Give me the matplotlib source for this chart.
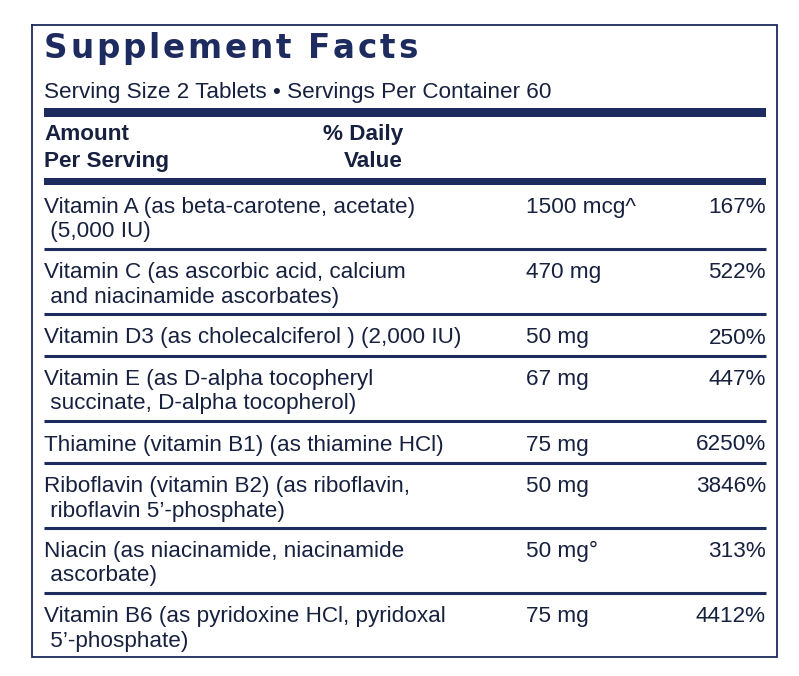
import matplotlib
matplotlib.use("Agg")
import matplotlib.pyplot as plt
from matplotlib import font_manager

# ---- data ----
title = "Supplement Facts"
serving_line = "Serving Size 2 Tablets \u2022 Servings Per Container 60"
header_left = ["Amount", "Per Serving"]
header_mid = ["% Daily", "Value"]
nutrients = [
    ["Vitamin A (as beta-carotene, acetate)", " (5,000 IU)"],
    ["Vitamin C (as ascorbic acid, calcium", " and niacinamide ascorbates)"],
    ["Vitamin D3 (as cholecalciferol ) (2,000 IU)"],
    ["Vitamin E (as D-alpha tocopheryl", " succinate, D-alpha tocopherol)"],
    ["Thiamine (vitamin B1) (as thiamine HCl)"],
    ["Riboflavin (vitamin B2) (as riboflavin,", " riboflavin 5\u2019-phosphate)"],
    ["Niacin (as niacinamide, niacinamide", " ascorbate)"],
    ["Vitamin B6 (as pyridoxine HCl, pyridoxal", " 5\u2019-phosphate)"],
]
amounts = ["1500 mcg^", "470 mg", "50 mg", "67 mg", "75 mg", "50 mg", "50 mg\u00b0", "75 mg"]
daily_values = ["167%", "522%", "250%", "447%", "6250%", "3846%", "313%", "4412%"]

# ---- style ----
NAVY = "#1d2b5f"
TEXT = "#17213f"
avail = {f.name for f in font_manager.fontManager.ttflist}
body_family = ["Liberation Sans Narrow", "Liberation Sans", "DejaVu Sans"]
body_family = [f for f in body_family if f in avail] or ["DejaVu Sans"]
FS = 16.2

W, H = 799, 676
fig = plt.figure(figsize=(W / 100, H / 100), dpi=100)
ax = fig.add_axes([0, 0, 1, 1])
ax.set_xlim(0, W)
ax.set_ylim(H, 0)
ax.axis("off")

# border
ax.plot([32, 777, 777, 32, 32], [25, 25, 657, 657, 25], color=NAVY, lw=1.3,
        solid_joinstyle="miter")

XL, XR = 44, 766

# title with letter spacing
fig.canvas.draw()
renderer = fig.canvas.get_renderer()
x = XL
for ch in title:
    t = ax.text(x, 58, ch, fontsize=23.5, fontweight="heavy", family="DejaVu Sans",
                color=NAVY, va="baseline", ha="left")
    bb = t.get_window_extent(renderer=renderer)
    w = 11 if ch == " " else bb.width
    x += w + 2.8

ax.text(XL, 98, serving_line, fontsize=FS, family=body_family, color=TEXT,
        va="baseline", ha="left")

# thick bars + header
ax.fill_between([XL, XR], 108, 117, color=NAVY, lw=0)
ax.text(XL, 140, header_left[0], fontsize=FS, family=body_family, weight="bold",
        color=TEXT, va="baseline")
ax.text(XL, 167, header_left[1], fontsize=FS, family=body_family, weight="bold",
        color=TEXT, va="baseline")
ax.text(403, 140, header_mid[0], fontsize=FS, family=body_family, weight="bold",
        color=TEXT, va="baseline", ha="right")
ax.text(403, 167, header_mid[1], fontsize=FS, family=body_family, weight="bold",
        color=TEXT, va="baseline", ha="right")
ax.fill_between([XL, XR], 178, 185, color=NAVY, lw=0)

# rows
H2, H1 = 65, 42
top = 184
for i, (lines, amt, dv) in enumerate(zip(nutrients, amounts, daily_values)):
    h = H2 if len(lines) > 1 else H1
    c = top + h / 2
    if len(lines) > 1:
        bases = [c - 3.5, c + 21]
    else:
        bases = [c + 8.5]
    for b, ln in zip(bases, lines):
        ax.text(XL, b, ln, fontsize=FS, family=body_family, color=TEXT,
                va="baseline")
    ax.text(526, bases[0], amt, fontsize=FS, family=body_family, color=TEXT,
            va="baseline")
    ax.text(XR, bases[0], dv, fontsize=FS, family=body_family, color=TEXT,
            va="baseline", ha="right")
    top += h
    if i < len(nutrients) - 1:
        ax.plot([XL, XR], [top, top], color=NAVY, lw=2.2, solid_capstyle="butt")

fig.savefig("out.png", dpi=100, facecolor="white")
